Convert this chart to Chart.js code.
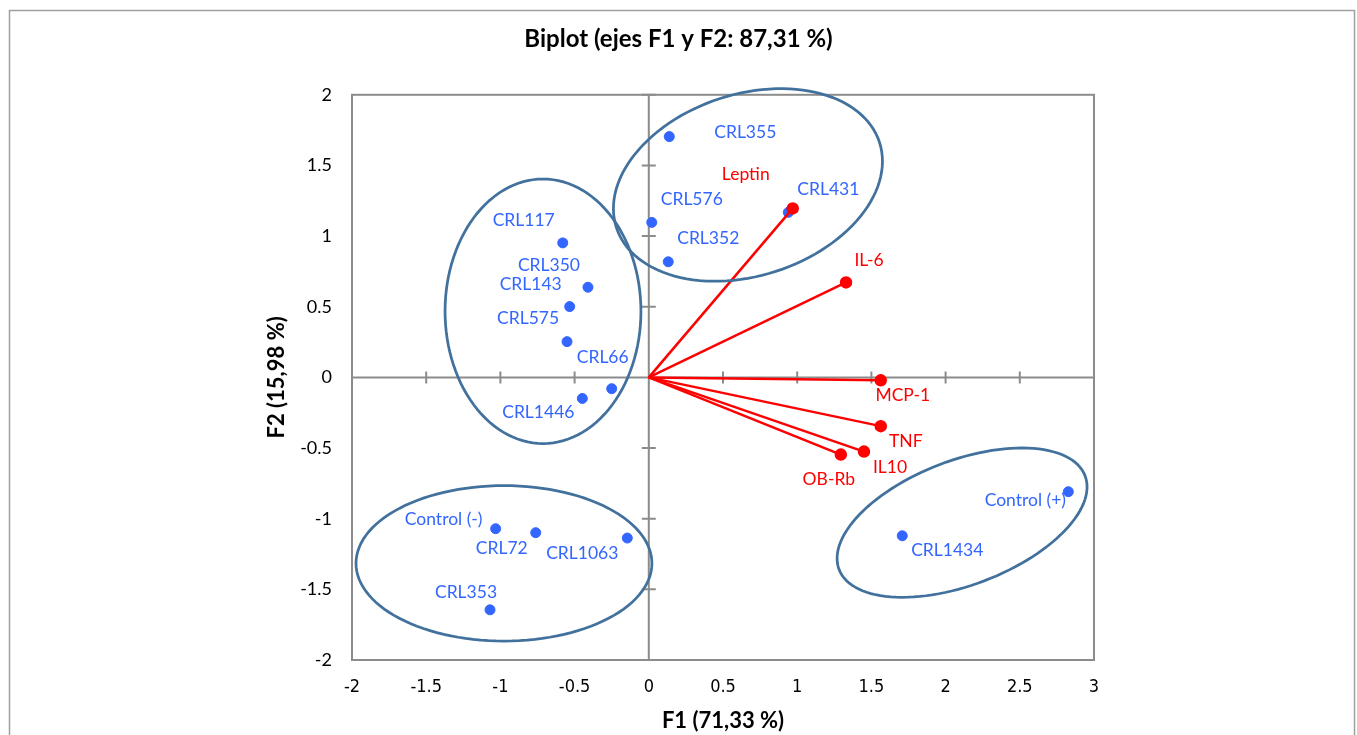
<!DOCTYPE html>
<html>
<head>
<meta charset="utf-8">
<script src="https://cdn.jsdelivr.net/npm/chart.js@4/dist/chart.umd.min.js"></script>
<style>
  body { margin: 0; background: #fff; }
  canvas { display: block; }
</style>
</head>
<body>
<canvas id="biplot" width="1357" height="735"></canvas>
<script>
// Observations (blue points)
const obsNames = ['CRL355', 'CRL431', 'CRL576', 'CRL352', 'CRL117', 'CRL350', 'CRL143', 'CRL575',
  'CRL66', 'CRL1446', 'Control (-)', 'CRL72', 'CRL1063', 'CRL353', 'Control (+)', 'CRL1434'];
const obsF1 = [0.138, 0.940, 0.020, 0.131, -0.580, -0.410, -0.533, -0.551,
  -0.250, -0.448, -1.032, -0.762, -0.145, -1.070, 2.827, 1.708];
const obsF2 = [1.704, 1.168, 1.097, 0.818, 0.952, 0.638, 0.501, 0.253,
  -0.080, -0.149, -1.071, -1.099, -1.137, -1.645, -0.809, -1.121];

// Variables (red vectors)
const varNames = ['Leptin', 'IL-6', 'MCP-1', 'TNF', 'IL10', 'OB-Rb'];
const varF1 = [0.970, 1.329, 1.563, 1.563, 1.450, 1.294];
const varF2 = [1.196, 0.672, -0.021, -0.345, -0.525, -0.546];

// label offsets in px (text centre relative to the point)
const obsLabelOffset = [[76, -4], [40, -23], [40, -23], [40, -23], [-39, -23], [-39, -22], [-39, -22], [-39, -23],
  [-9, -31], [-44, 14], [-52, -9], [-34, 16], [-45, 15], [-24, -17], [-43, 9], [45, 15]];
const varLabelOffset = [[-47, -34], [23, -22], [22, 15], [25, 15], [26, 16], [-12, 25]];

// groups circled on the plot: centre, major and minor semi-axis vectors (data units)
const groupEllipses = [
  { c: [0.668, 1.362], u: [0.887, 0.300], v: [-0.187, 0.612] },
  { c: [-0.713, 0.468], u: [0.660, 0], v: [0, 0.936] },
  { c: [-0.976, -1.316], u: [0.997, 0], v: [0, 0.550] },
  { c: [2.111, -1.028], u: [0.829, 0.331], v: [-0.149, 0.412] }
];

const BLUE = '#3366FF';
const RED = '#FF0000';
const GREY = '#8C8C8C';

const datasets = [{
  label: 'Observations',
  data: obsF1.map((x, i) => ({ x: x, y: obsF2[i] })),
  backgroundColor: BLUE,
  borderColor: BLUE,
  pointRadius: 5,
  order: 1
}];
varNames.forEach((name, i) => {
  datasets.push({
    label: name,
    data: [{ x: 0, y: 0 }, { x: varF1[i], y: varF2[i] }],
    showLine: true,
    borderColor: RED,
    backgroundColor: RED,
    borderWidth: 2.5,
    pointRadius: [0, 5],
    order: 0
  });
});

// frame, plot box, axes through origin with small crossing ticks
const axesPlugin = {
  id: 'axesPlugin',
  beforeDraw(chart) {
    const ctx = chart.ctx;
    ctx.save();
    ctx.strokeStyle = '#A0A0A0';
    ctx.lineWidth = 1.5;
    ctx.strokeRect(9.5, 10.5, 1345, 800);
    ctx.restore();
  },
  beforeDatasetsDraw(chart) {
    const { ctx, chartArea: a, scales: { x, y } } = chart;
    const x0 = x.getPixelForValue(0);
    const y0 = y.getPixelForValue(0);
    ctx.save();
    ctx.strokeStyle = GREY;
    ctx.lineWidth = 2;
    ctx.strokeRect(a.left, a.top, a.right - a.left, a.bottom - a.top);
    ctx.beginPath();
    ctx.moveTo(x0, a.top); ctx.lineTo(x0, a.bottom);
    ctx.moveTo(a.left, y0); ctx.lineTo(a.right, y0);
    x.ticks.forEach(t => {
      const px = x.getPixelForValue(t.value);
      ctx.moveTo(px, y0 - 6); ctx.lineTo(px, y0 + 6);
    });
    y.ticks.forEach(t => {
      const py = y.getPixelForValue(t.value);
      ctx.moveTo(x0 - 7, py); ctx.lineTo(x0 + 7, py);
    });
    ctx.stroke();
    ctx.restore();
  }
};

// ellipses around groups + point labels
const overlayPlugin = {
  id: 'overlayPlugin',
  afterDatasetsDraw(chart) {
    const { ctx, scales: { x, y } } = chart;
    ctx.save();
    ctx.strokeStyle = '#41719C';
    ctx.lineWidth = 2.75;
    groupEllipses.forEach(e => {
      ctx.beginPath();
      for (let k = 0; k <= 120; k++) {
        const t = k / 120 * Math.PI * 2;
        const dx = e.c[0] + e.u[0] * Math.cos(t) + e.v[0] * Math.sin(t);
        const dy = e.c[1] + e.u[1] * Math.cos(t) + e.v[1] * Math.sin(t);
        const px = x.getPixelForValue(dx), py = y.getPixelForValue(dy);
        if (k === 0) ctx.moveTo(px, py); else ctx.lineTo(px, py);
      }
      ctx.closePath();
      ctx.stroke();
    });

    ctx.font = '17.5px Lato';
    ctx.textAlign = 'center';
    ctx.textBaseline = 'middle';
    ctx.fillStyle = BLUE;
    obsNames.forEach((name, i) => {
      const px = x.getPixelForValue(obsF1[i]), py = y.getPixelForValue(obsF2[i]);
      ctx.fillText(name, px + obsLabelOffset[i][0], py + obsLabelOffset[i][1]);
    });
    ctx.fillStyle = RED;
    varNames.forEach((name, i) => {
      const px = x.getPixelForValue(varF1[i]), py = y.getPixelForValue(varF2[i]);
      ctx.fillText(name, px + varLabelOffset[i][0], py + varLabelOffset[i][1]);
    });
    ctx.restore();
  }
};

const plainTick = v => String(Math.round(v * 10) / 10);

const chart = new Chart(document.getElementById('biplot'), {
  type: 'scatter',
  data: { datasets: datasets },
  options: {
    responsive: false,
    animation: false,
    layout: { padding: 0 },
    plugins: {
      legend: { display: false },
      tooltip: { enabled: false },
      title: {
        display: true,
        text: 'Biplot (ejes F1 y F2: 87,31 %)',
        color: '#000',
        font: { family: 'Lato', size: 24, weight: 'bold', lineHeight: 1.2 },
        padding: { top: 25, bottom: 41 }
      }
    },
    scales: {
      x: {
        type: 'linear',
        min: -2, max: 3,
        grid: { display: false, drawTicks: false },
        border: { display: false },
        ticks: {
          stepSize: 0.5,
          padding: 17,
          color: '#000',
          callback: plainTick,
          font: { family: "'DejaVu Sans Condensed', Lato", size: 18 }
        },
        title: {
          display: true,
          text: 'F1 (71,33 %)',
          color: '#000',
          font: { family: 'Lato', size: 22, weight: 'bold', lineHeight: 1.2 },
          padding: { top: 0, bottom: 1 }
        },
        afterFit(scale) { scale.height = 75; }
      },
      y: {
        type: 'linear',
        min: -2, max: 2,
        grid: { display: false, drawTicks: false },
        border: { display: false },
        ticks: {
          stepSize: 0.5,
          padding: 20,
          color: '#000',
          callback: plainTick,
          font: { family: 'Lato', size: 18 }
        },
        title: {
          display: true,
          text: 'F2 (15,98 %)',
          color: '#000',
          font: { family: 'Lato', size: 22, weight: 'bold', lineHeight: 1.2 },
          padding: { top: 264, bottom: 0 }
        },
        afterFit(scale) { scale.width = 352; }
      },
      // empty right-hand box that keeps the plot at the reference width
      yRight: {
        type: 'linear',
        position: 'right',
        min: -2, max: 2,
        grid: { display: false, drawTicks: false },
        border: { display: false },
        ticks: { display: false },
        afterFit(scale) { scale.width = 263; }
      }
    }
  },
  plugins: [axesPlugin, overlayPlugin]
});
</script>
</body>
</html>
